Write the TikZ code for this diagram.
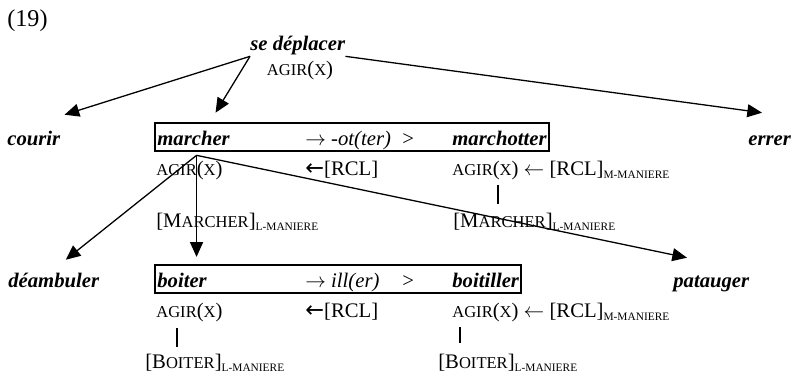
\documentclass[tikz,border=0pt]{standalone}
\usepackage{fontspec}
\setmainfont{Liberation Serif}
\newfontfamily\arrfont{DejaVu Sans}
\usepackage{tikz}
\usetikzlibrary{arrows.meta, positioning, fit, calc}

\newcommand{\smc}[1]{{\fontsize{9.6}{10}\selectfont #1}}
\newcommand{\lsub}[1]{\raisebox{-1.5pt}{\fontsize{6.6}{7}\selectfont #1}}
\newcommand{\agir}{\smc{AGIR}(\smc{X})}
\newcommand{\rcl}{{\arrfont\fontsize{13}{14}\selectfont ←}[RCL]}

\begin{document}
\begin{tikzpicture}[
    x=0.58pt, y=-0.58pt,
    every node/.style={inner sep=0pt, font=\fontsize{12}{14}\selectfont},
    lemma/.style={anchor=base west, font=\fontsize{12}{14}\selectfont\bfseries\itshape, text height=13.3pt, text depth=2.9pt},
    gloss/.style={anchor=base west},
    wordbox/.style={draw, line width=1.1pt, inner xsep=1.2pt, inner ysep=0pt},
    arrow/.style={-{Triangle[length=8.5pt, width=7.5pt]}, line width=0.75pt},
    link/.style={line width=0.7pt}
]
\useasboundingbox (0,0) rectangle (795,377);

\node[gloss, font=\fontsize{14}{16}\selectfont] (exnum) at (7,27) {(19)};
\node[lemma] (deplacer) at (250,51) {se déplacer};
\node[anchor=base] (dagir) at (300,76) {\agir};

% first row: marcher
\node[lemma] (courir) at (7,146) {courir};
\node[lemma] (marcher) at (157,146) {marcher};
\node[gloss] (motsuf) at (305,146) {$\rightarrow$ \textit{-ot(ter)}};
\node[gloss] (mgt) at (402,146) {>};
\node[lemma] (marchotter) at (452,146) {marchotter};
\node[lemma] (errer) at (748,146) {errer};
\node[wordbox, fit=(marcher)(marchotter)] (mbox) {};

\node[gloss] (magir) at (156,176) {\agir};
\node[gloss] (mrcl) at (305,176) {\rcl};
\node[gloss] (mcagir) at (452,176) {\agir{} $\leftarrow$ [RCL]\lsub{M-MANIERE}};
\node[gloss] (mlex) at (156,228) {[M\smc{ARCHER}]\lsub{L-MANIERE}};
\node[gloss] (mclex) at (453,228) {[M\smc{ARCHER}]\lsub{L-MANIERE}};

% second row: boiter
\node[lemma] (deamb) at (8,288) {déambuler};
\node[lemma] (boiter) at (157,288) {boiter};
\node[gloss] (isuf) at (305,288) {$\rightarrow$ \textit{ill(er)}};
\node[gloss] (bgt) at (402,288) {>};
\node[lemma] (boitiller) at (452,288) {boitiller};
\node[lemma] (patauger) at (673,288) {patauger};
\node[wordbox, fit=(boiter)(boitiller)] (bbox) {};

\node[gloss] (bagir) at (156,318) {\agir};
\node[gloss] (brcl) at (305,318) {\rcl};
\node[gloss] (bcagir) at (452,318) {\agir{} $\leftarrow$ [RCL]\lsub{M-MANIERE}};
\node[gloss] (blex) at (145,369) {[B\smc{OITER}]\lsub{L-MANIERE}};
\node[gloss] (bclex) at (438,369) {[B\smc{OITER}]\lsub{L-MANIERE}};

% arrows
\coordinate (dfork) at (deplacer.south west);
\coordinate (mfork) at ($(marcher.south)+(3,4)$);
\draw[arrow] (dfork) -- ($(courir.north east)+(4,-8)$);
\draw[arrow] (dfork) -- ($(marcher.north)+(22,-10)$);
\draw[arrow] (deplacer.south east) -- ($(errer.north west)+(14,-10)$);
\draw[arrow] (mfork) -- ($(deamb.north)+(12,-5)$);
\draw[arrow, shorten >=4pt] (mfork) -- (mfork |- bbox.north);
\draw[arrow] (mfork) -- ($(patauger.north west)+(14,-7)$);

% lexical links
\draw[link] ($(mcagir.south west)+(46,4)$) -- ++(0,19);
\draw[link] ($(bagir.south west)+(21,5.5)$) -- ++(0,19);
\draw[link] ($(bcagir.south west)+(8,4.5)$) -- ++(0,16);

\end{tikzpicture}
\end{document}
